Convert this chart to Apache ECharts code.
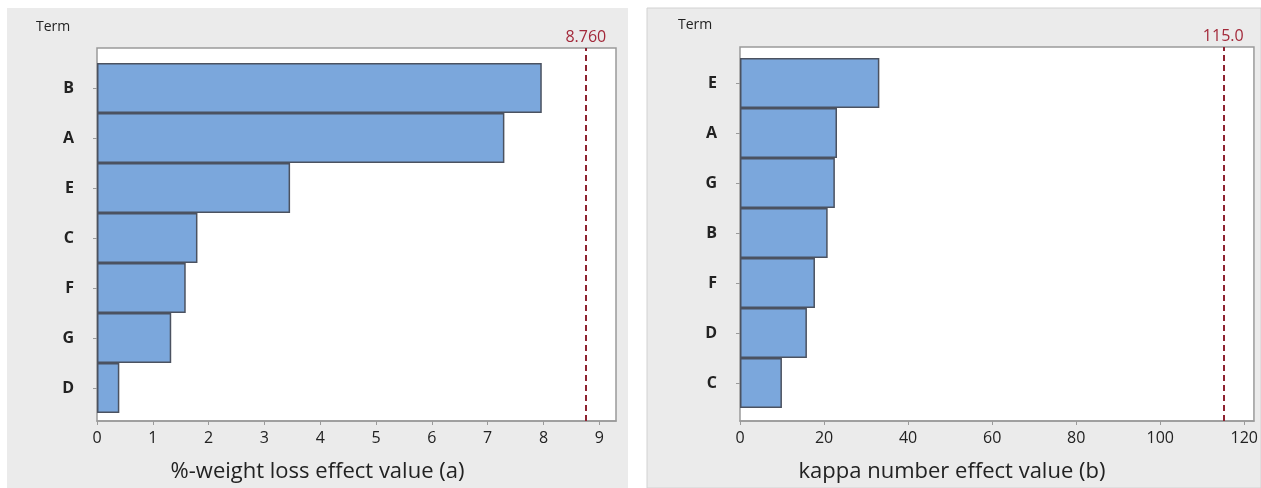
<!DOCTYPE html>
<html>
<head>
<meta charset="utf-8">
<script src="https://cdn.jsdelivr.net/npm/echarts@6/dist/echarts.min.js"></script>
<style>
  html, body { margin: 0; padding: 0; background: #ffffff; }
  #chart { width: 1261px; height: 488px; }
</style>
</head>
<body>
<div id="chart"></div>
<script>
// Pareto chart (a): %-weight loss
const termsA = ["B", "A", "E", "C", "F", "G", "D"];
const valuesA = [7.97, 7.30, 3.46, 1.80, 1.59, 1.33, 0.40];
const limitA = 8.76;
const ticksA = [0, 1, 2, 3, 4, 5, 6, 7, 8, 9];

// Pareto chart (b): kappa number
const termsB = ["E", "A", "G", "B", "F", "D", "C"];
const valuesB = [32.9, 22.9, 22.4, 20.7, 17.7, 15.8, 9.9];
const limitB = 115.0;
const ticksB = [0, 20, 40, 60, 80, 100, 120];

const font = "Open Sans";
const barColor = "#7ba7dc";
const barBorder = "#4b5260";
const frameColor = "#9a9a9a";
const lineRed = "#8e2231";

const chart = echarts.init(document.getElementById("chart"));

function frameX(gridIndex, max, ticks, name, shift) {
  return {
    type: "value",
    gridIndex: gridIndex,
    min: 0,
    max: max,
    axisLine: { show: true, lineStyle: { color: frameColor, width: 1.5 } },
    axisTick: {
      show: true,
      length: 4,
      customValues: ticks,
      lineStyle: { color: frameColor }
    },
    axisLabel: {
      customValues: ticks,
      margin: 9,
      color: "#222",
      fontFamily: font,
      fontSize: 16
    },
    splitLine: { show: false },
    name: name,
    nameLocation: "middle",
    nameGap: 40,
    nameTextStyle: {
      color: "#222",
      fontFamily: font,
      fontSize: 22,
      padding: [0, shift, 0, 0]
    }
  };
}

function barX(gridIndex, max) {
  return { type: "value", gridIndex: gridIndex, min: 0, max: max, show: false };
}

function frameY(gridIndex) {
  return { type: "value", gridIndex: gridIndex, min: 0, max: 1, show: false };
}

function termY(gridIndex, terms) {
  return {
    type: "category",
    gridIndex: gridIndex,
    data: terms,
    inverse: true,
    axisLine: { show: false },
    axisTick: {
      show: true,
      alignWithLabel: true,
      length: 4,
      lineStyle: { color: frameColor }
    },
    axisLabel: {
      margin: 23,
      color: "#222",
      fontFamily: font,
      fontSize: 16,
      fontWeight: "bold"
    }
  };
}

function limitLine(xIndex, yIndex, value, text) {
  return {
    type: "scatter",
    xAxisIndex: xIndex,
    yAxisIndex: yIndex,
    data: [],
    silent: true,
    markLine: {
      symbol: "none",
      silent: true,
      lineStyle: { color: lineRed, type: [6, 4], width: 2 },
      label: {
        position: "end",
        distance: 3,
        formatter: text,
        color: "#a3293a",
        fontFamily: font,
        fontSize: 16
      },
      data: [{ xAxis: value }]
    }
  };
}

function bars(xIndex, yIndex, values) {
  return {
    type: "bar",
    xAxisIndex: xIndex,
    yAxisIndex: yIndex,
    data: values,
    barCategoryGap: 0,
    itemStyle: { color: barColor, borderColor: barBorder, borderWidth: 1.5 }
  };
}

chart.setOption({
  backgroundColor: "#ffffff",
  animation: false,
  graphic: [
    {
      type: "rect",
      z: -10,
      shape: { x: 7, y: 8, width: 621, height: 480 },
      style: { fill: "#ebebeb" }
    },
    {
      type: "rect",
      z: -10,
      shape: { x: 647, y: 8, width: 614, height: 480 },
      style: { fill: "#ebebeb", stroke: "#d2d2d2", lineWidth: 1 }
    }
  ],
  title: [
    {
      text: "Term",
      left: 36,
      top: 20,
      padding: 0,
      textStyle: { color: "#222", fontFamily: font, fontSize: 14, fontWeight: "normal" }
    },
    {
      text: "Term",
      left: 678,
      top: 18,
      padding: 0,
      textStyle: { color: "#222", fontFamily: font, fontSize: 14, fontWeight: "normal" }
    }
  ],
  grid: [
    { left: 97, top: 48, width: 519, height: 377, show: true, backgroundColor: "#ffffff", borderColor: frameColor, borderWidth: 1.5 },
    { left: 97, top: 63, width: 519, height: 350 },
    { left: 740, top: 47, width: 518, height: 374, show: true, backgroundColor: "#ffffff", borderColor: frameColor, borderWidth: 1.5 },
    { left: 740, top: 58, width: 518, height: 350 }
  ],
  xAxis: [
    frameX(0, 9.3, ticksA, "%-weight loss effect value (a)", 78),
    barX(1, 9.3),
    frameX(2, 122.3, ticksB, "kappa number effect value (b)", 90),
    barX(3, 122.3)
  ],
  yAxis: [
    frameY(0),
    termY(1, termsA),
    frameY(2),
    termY(3, termsB)
  ],
  series: [
    bars(1, 1, valuesA),
    limitLine(0, 0, limitA, "8.760"),
    bars(3, 3, valuesB),
    limitLine(2, 2, limitB, "115.0")
  ]
});
</script>
</body>
</html>
